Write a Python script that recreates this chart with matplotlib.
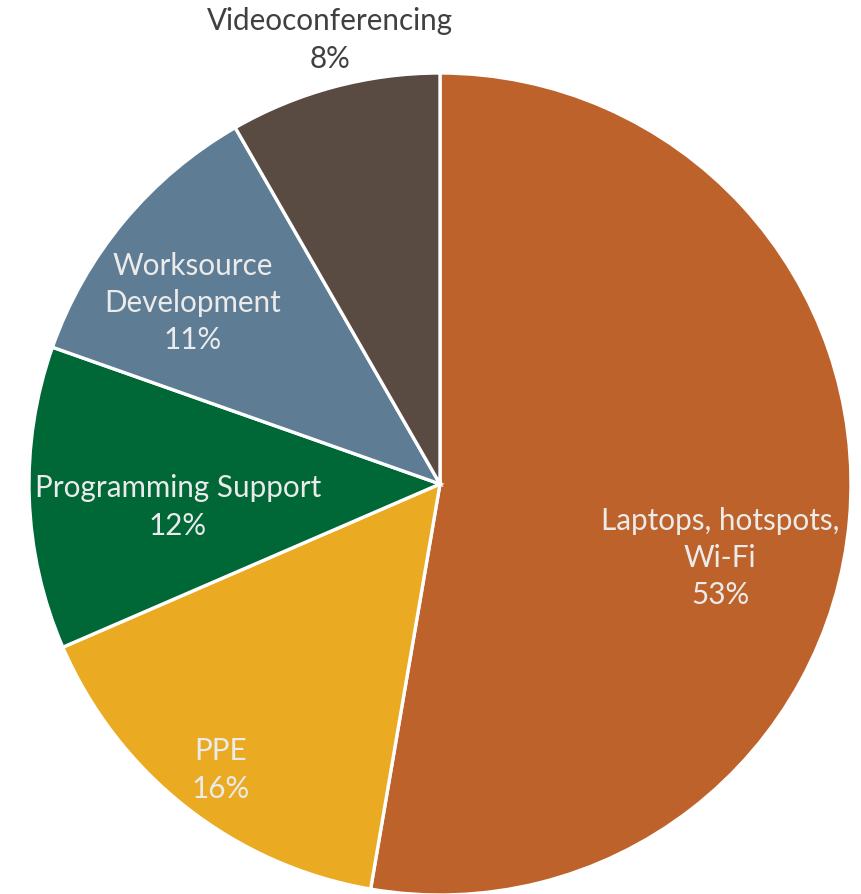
import matplotlib.pyplot as plt

categories = ["Laptops, hotspots,\nWi-Fi", "PPE", "Programming Support",
              "Worksource\nDevelopment", "Videoconferencing"]
values = [52.7, 15.8, 11.9, 11.3, 8.3]
pct_labels = ["53%", "16%", "12%", "11%", "8%"]
colors = ["#BD622A", "#EAAA22", "#006837", "#5E7D95", "#594A42"]

# label anchor points (pixel coords, y measured from the bottom)
label_xy = [(720, 336), (221, 124), (178, 387), (193, 591), (330, 854)]
label_colors = ["#EBEBEB", "#EBEBEB", "#EBEBEB", "#EBEBEB", "#404040"]

plt.rcParams["font.family"] = ["Lato", "DejaVu Sans"]

fig = plt.figure(figsize=(8.61, 8.94), dpi=100)
ax = fig.add_axes([0, 0, 1, 1])

ax.pie(values, colors=colors, startangle=90, counterclock=False,
       center=(440, 410), radius=411,
       wedgeprops=dict(edgecolor="white", linewidth=2.4))
ax.set_xlim(0, 861)
ax.set_ylim(0, 894)
ax.axis("off")

for name, pct, (x, y), c in zip(categories, pct_labels, label_xy, label_colors):
    ax.text(x, y, f"{name}\n{pct}", ha="center", va="center",
            fontsize=21.3, color=c, linespacing=1.4)

fig.savefig("out.png", dpi=100)
